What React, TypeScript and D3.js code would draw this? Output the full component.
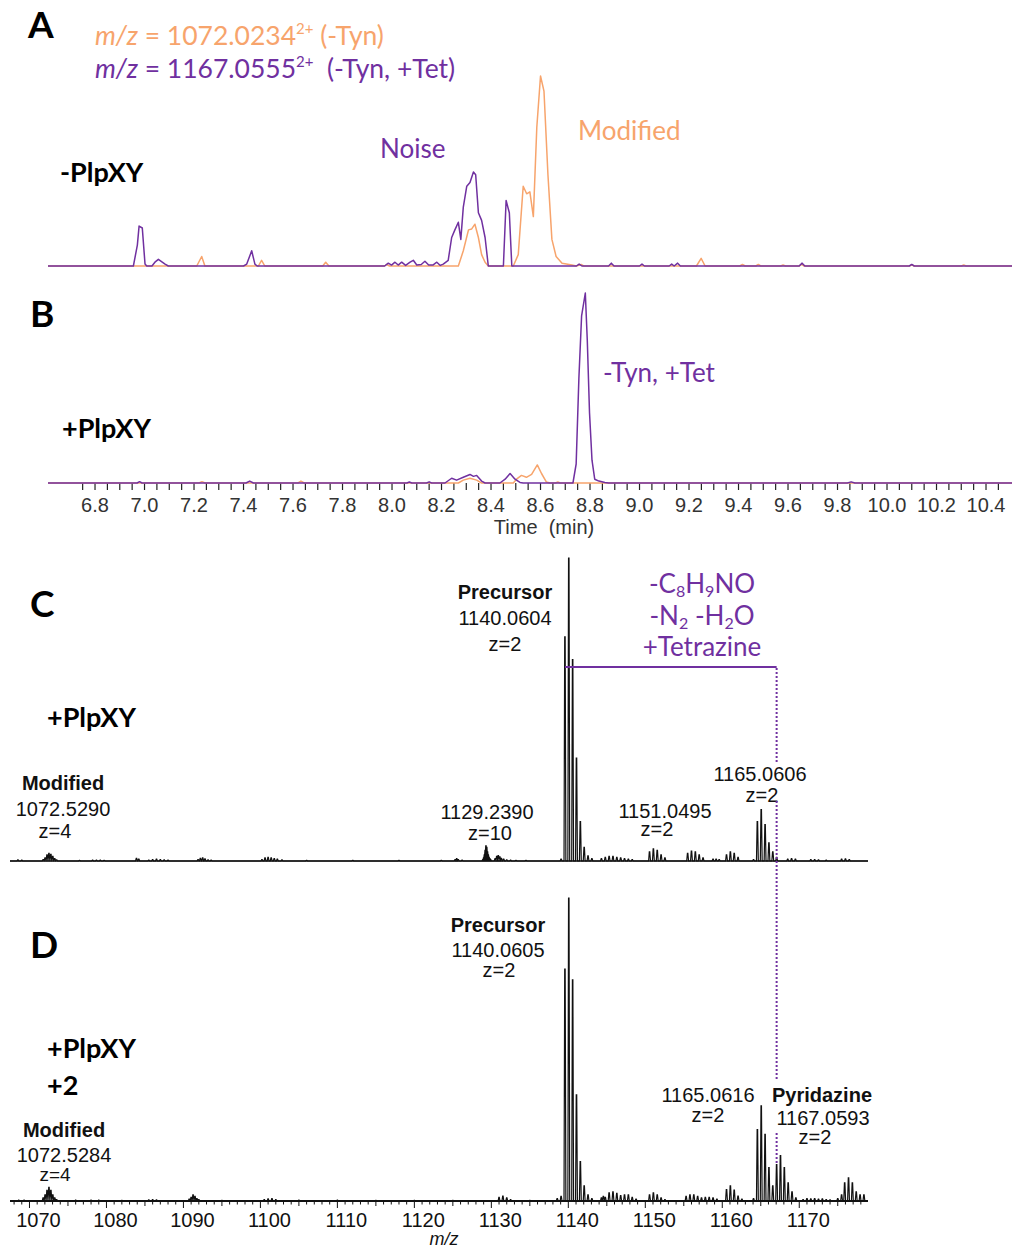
import React from 'react';
import * as d3 from 'd3';

const ORANGE = '#F7A46C';
const PURPLE = '#7030A0';
const CAL = 'Lato, "Open Sans", sans-serif';
const ARIAL = '"Liberation Sans", Arial, sans-serif';

// ---------- Chromatogram data (time in min, relative intensity %) ----------
const timeTickLabels = [6.8, 7.0, 7.2, 7.4, 7.6, 7.8, 8.0, 8.2, 8.4, 8.6, 8.8, 9.0, 9.2, 9.4, 9.6, 9.8, 10.0, 10.2, 10.4];

const chromA_tyn: [number, number][] = [
  [6.61, 0], [7.211, 0], [7.231, 5], [7.244, 0], [7.46, 0], [7.473, 3], [7.486, 0], [7.72, 0], [7.732, 2], [7.745, 0],
  [7.97, 0], [7.978, 0.8], [7.99, 0], [8.268, 0], [8.288, 8], [8.309, 19], [8.322, 19.5], [8.335, 22], [8.349, 15],
  [8.362, 6], [8.376, 2], [8.389, 0], [8.49, 0], [8.51, 6], [8.53, 42], [8.544, 38], [8.557, 39], [8.571, 26],
  [8.585, 73], [8.6, 100], [8.614, 92], [8.63, 48], [8.646, 14], [8.663, 5], [8.687, 1.5], [8.727, 0.5], [8.745, 0],
  [8.764, 0.8], [8.775, 0], [9.23, 0], [9.249, 4], [9.265, 0], [9.405, 0], [9.416, 0.8], [9.427, 0], [9.47, 0],
  [9.48, 0.8], [9.49, 0], [9.57, 0], [9.58, 0.5], [9.59, 0], [9.645, 0], [9.655, 0.8], [9.665, 0], [10.09, 0],
  [10.1, 0.5], [10.11, 0], [10.3, 0], [10.31, 0.5], [10.32, 0], [10.505, 0],
];

const chromA_tet: [number, number][] = [
  [6.61, 0], [6.955, 0], [6.971, 11], [6.978, 21], [6.991, 20], [7.002, 1], [7.009, 0], [7.03, 0], [7.042, 2],
  [7.056, 3.5], [7.083, 1], [7.096, 0], [7.4, 0], [7.413, 1], [7.433, 8], [7.446, 1], [7.455, 0], [7.97, 0],
  [7.985, 1.5], [7.998, 0.5], [8.012, 2], [8.025, 0.5], [8.039, 2], [8.055, 0.3], [8.073, 2], [8.086, 3], [8.1, 0.5],
  [8.118, 0.8], [8.133, 2.5], [8.148, 0.5], [8.165, 0.5], [8.181, 2], [8.195, 0.3], [8.207, 1], [8.227, 3],
  [8.241, 15], [8.254, 19], [8.268, 23], [8.278, 14], [8.288, 31], [8.302, 42], [8.315, 44], [8.329, 49.5],
  [8.338, 48], [8.349, 28], [8.362, 24], [8.376, 15], [8.389, 0], [8.45, 0], [8.461, 34.5], [8.474, 28], [8.484, 0],
  [8.745, 0], [8.756, 1], [8.767, 0], [8.875, 0], [8.886, 1.5], [8.897, 0], [9.0, 0], [9.01, 1], [9.02, 0],
  [9.12, 0], [9.13, 1], [9.14, 0], [9.154, 1.5], [9.165, 0], [9.645, 0], [9.657, 1.5], [9.668, 0], [10.09, 0],
  [10.1, 0.8], [10.11, 0], [10.505, 0],
];

const chromB_tyn: [number, number][] = [
  [6.61, 0], [7.22, 0], [7.232, 0.7], [7.245, 0], [7.62, 0], [7.632, 1], [7.645, 0], [8.268, 0], [8.288, 1.5],
  [8.315, 2.5], [8.342, 1.5], [8.362, 0], [8.49, 0], [8.503, 2], [8.523, 4], [8.543, 3], [8.564, 4.5], [8.587, 9.5],
  [8.604, 5], [8.624, 0.5], [8.638, 0], [8.66, 0], [8.67, 0.5], [8.68, 0], [10.505, 0],
];

const chromB_tet: [number, number][] = [
  [6.61, 0], [6.97, 0], [6.98, 0.7], [6.99, 0], [7.41, 0], [7.425, 1], [7.44, 0], [8.06, 0], [8.07, 0.5], [8.08, 0],
  [8.14, 0], [8.15, 0.6], [8.16, 0], [8.214, 0], [8.241, 2.5], [8.261, 1.5], [8.288, 3], [8.315, 4.5], [8.329, 3.5],
  [8.342, 4], [8.362, 1], [8.376, 0], [8.436, 0], [8.457, 2], [8.477, 5], [8.497, 2], [8.517, 0.3], [8.53, 0],
  [8.731, 0], [8.744, 10], [8.755, 55], [8.766, 88], [8.781, 100], [8.789, 75], [8.798, 37], [8.808, 12], [8.819, 2],
  [8.836, 1], [8.86, 0.3], [8.875, 0], [9.84, 0], [9.855, 0.6], [9.87, 0], [10.505, 0],
];

// ---------- Mass spectra (m/z, relative intensity %) ----------
const mzTickLabels = [1070, 1080, 1090, 1100, 1110, 1120, 1130, 1140, 1150, 1160, 1170];

const specC: [number, number][] = [
  [1068.5, 0.4], [1069.0, 0.3],
  [1071.78, 0.5], [1072.03, 1.0], [1072.28, 2.0], [1072.53, 2.5], [1072.78, 2.2], [1073.03, 1.5], [1073.28, 0.8], [1073.53, 0.4],
  [1076.5, 0.2], [1078.2, 0.3], [1078.7, 0.3], [1079.2, 0.3], [1079.7, 0.2],
  [1083.9, 0.9], [1084.2, 0.6], [1085.5, 0.3], [1086.0, 0.5], [1086.5, 0.6], [1087.0, 0.5], [1087.5, 0.4], [1088.0, 0.3],
  [1091.9, 0.5], [1092.2, 0.9], [1092.5, 1.0], [1092.8, 0.7], [1093.2, 0.4], [1093.6, 0.3],
  [1100.2, 0.5], [1100.6, 1.0], [1101.0, 1.2], [1101.4, 1.0], [1101.8, 0.8], [1102.2, 0.6], [1102.8, 0.4],
  [1106, 0.2], [1112, 0.2], [1118, 0.2], [1123.5, 0.2], [1125.3, 0.5], [1125.5, 0.8], [1125.7, 0.5], [1126.2, 0.3],
  [1128.9, 0.5], [1129.0, 1.0], [1129.1, 2.0], [1129.2, 3.5], [1129.3, 5.0], [1129.4, 4.5], [1129.5, 3.0], [1129.6, 2.0],
  [1129.7, 1.2], [1129.8, 0.8], [1129.9, 0.5],
  [1130.5, 0.8], [1130.7, 1.5], [1130.9, 1.8], [1131.1, 1.4], [1131.3, 0.9], [1131.6, 0.6], [1132.0, 0.4], [1132.5, 0.3],
  [1133.2, 0.2], [1134.5, 0.2],
  [1139.06, 0.6], [1139.56, 74], [1140.06, 100], [1140.56, 66.5], [1141.06, 34], [1141.56, 13], [1142.06, 4.5],
  [1142.56, 1.7], [1143.06, 0.8],
  [1144.3, 0.8], [1144.8, 1.2], [1145.3, 1.5], [1145.8, 1.5], [1146.3, 1.2], [1146.8, 1.0], [1147.3, 0.8], [1147.8, 0.6], [1148.3, 0.5],
  [1150.55, 3.0], [1151.05, 4.0], [1151.55, 3.5], [1152.05, 2.0], [1152.55, 1.0],
  [1155.5, 2.5], [1156.0, 3.3], [1156.5, 3.0], [1157.0, 2.0], [1157.5, 1.0],
  [1158.8, 0.6], [1159.2, 0.6], [1159.6, 0.5],
  [1160.55, 2.0], [1161.05, 3.0], [1161.55, 2.5], [1162.05, 1.2],
  [1164.06, 0.5], [1164.56, 13], [1165.06, 17], [1165.56, 12], [1166.06, 6], [1166.56, 3], [1167.06, 1.2],
  [1168.5, 0.6], [1169.0, 0.8], [1169.5, 0.6], [1171.5, 0.5], [1172.0, 0.5], [1172.5, 0.4], [1173.5, 0.3],
  [1175.5, 0.6], [1176.0, 0.7], [1176.5, 0.5],
];

const specD: [number, number][] = [
  [1068.6, 0.3], [1069.3, 0.3],
  [1071.78, 1.0], [1072.03, 2.0], [1072.28, 3.5], [1072.53, 4.5], [1072.78, 3.5], [1073.03, 2.0], [1073.28, 1.0], [1073.53, 0.5],
  [1076.0, 0.3], [1078.0, 0.3], [1079.0, 0.3], [1082.0, 0.2], [1085.5, 0.4], [1086.0, 0.5], [1086.5, 0.4],
  [1090.75, 0.6], [1091.0, 1.2], [1091.25, 2.0], [1091.5, 1.5], [1091.75, 0.8], [1092.0, 0.5],
  [1095.0, 0.2], [1100.5, 0.5], [1101.0, 0.7], [1101.5, 0.8], [1102.0, 0.5], [1105.0, 0.3], [1110.0, 0.3],
  [1115.0, 0.2], [1120.0, 0.2], [1125.0, 0.2],
  [1131.0, 1.2], [1131.5, 1.6], [1132.0, 1.0], [1132.5, 0.5], [1135.0, 0.2],
  [1138.56, 0.8], [1139.06, 1.5], [1139.56, 76.5], [1140.06, 100], [1140.56, 73], [1141.06, 35], [1141.56, 13],
  [1142.06, 5], [1142.56, 2], [1143.06, 0.8],
  [1144.3, 1.0], [1144.55, 1.5], [1144.8, 1.2], [1145.3, 2.7], [1145.8, 3.0], [1146.3, 2.5], [1146.8, 1.8],
  [1147.3, 2.0], [1147.8, 2.0], [1148.3, 1.2], [1148.8, 0.6],
  [1150.55, 2.0], [1151.05, 2.7], [1151.55, 2.0], [1152.05, 1.0], [1152.55, 0.5],
  [1155.3, 1.5], [1155.8, 2.0], [1156.3, 2.0], [1156.8, 1.5], [1157.3, 1.0], [1157.8, 1.2], [1158.3, 1.2], [1158.8, 1.0], [1159.3, 0.6],
  [1160.55, 3.8], [1161.05, 5.0], [1161.55, 3.6], [1162.05, 1.6], [1162.55, 0.6],
  [1164.06, 0.8], [1164.56, 23.6], [1165.06, 31.4], [1165.56, 22], [1166.06, 11], [1166.56, 5], [1167.06, 12],
  [1167.56, 15], [1168.06, 11], [1168.56, 6], [1169.06, 3], [1169.56, 1],
  [1170.5, 0.5], [1171.0, 0.8], [1171.5, 0.7], [1172.0, 0.8], [1172.5, 0.6], [1173.0, 0.7], [1173.5, 0.5], [1174.0, 0.4],
  [1175.0, 0.8], [1175.5, 2.0], [1175.9, 6.0], [1176.4, 7.6], [1176.9, 6.0], [1177.4, 3.0], [1177.9, 2.0], [1178.4, 2.0],
];

const precursorMz = 1139.56;
const pyridazineMz = 1167.06;

// ---------- scales ----------
const xTime = d3.scaleLinear().domain([6.61, 10.505]).range([48, 1012]);
const yA = d3.scaleLinear().domain([0, 100]).range([266, 76]);
const yB = d3.scaleLinear().domain([0, 100]).range([483, 293]);
const xMz = d3.scaleLinear().domain([1067.47, 1178.93]).range([10, 868]);
const yC = d3.scaleLinear().domain([0, 100]).range([861, 558]);
const yD = d3.scaleLinear().domain([0, 100]).range([1201, 898]);

function chromPath(data: [number, number][], y: d3.ScaleLinear<number, number>) {
  return d3.line<[number, number]>().x(d => xTime(d[0])).y(d => y(d[1]))(data) || '';
}

function specPath(peaks: [number, number][], y: d3.ScaleLinear<number, number>) {
  const sorted = [...peaks].sort((a, b) => a[0] - b[0]);
  const pts: [number, number][] = [[xMz.domain()[0], 0]];
  for (const [m, h] of sorted) {
    pts.push([m - 0.12, 0], [m - 0.03, h], [m + 0.03, h], [m + 0.12, 0]);
  }
  pts.push([xMz.domain()[1], 0]);
  return d3.line<[number, number]>().x(d => xMz(d[0])).y(d => y(d[1]))(pts) || '';
}

const timeMinor = d3.range(6.75, 10.451, 0.05);
const mzMinor = d3.range(1068, 1179, 1);

export default function App() {
  const bracketY = yC(64);
  const dotX = xMz(pyridazineMz);
  return (
    <svg width={1015} height={1253} style={{ position: 'absolute', left: 0, top: 0, background: '#fff' }}
      xmlns="http://www.w3.org/2000/svg">
      <rect x={0} y={0} width={1015} height={1253} fill="#fff" />

      {/* ---------------- Panel A ---------------- */}
      <text x={28} y={38} fontFamily={CAL} fontWeight={700} fontSize={37} fill="#000">A</text>
      <text x={95} y={45} fontFamily={CAL} fontSize={26.5} fill={ORANGE}>
        <tspan fontStyle="italic">m/z</tspan>
        <tspan> = 1072.0234</tspan>
        <tspan fontSize={15} dy={-11}>2+</tspan>
        <tspan dy={11}> (-Tyn)</tspan>
      </text>
      <text x={95} y={78} fontFamily={CAL} fontSize={26.5} fill={PURPLE}>
        <tspan fontStyle="italic">m/z</tspan>
        <tspan> = 1167.0555</tspan>
        <tspan fontSize={15} dy={-11}>2+</tspan>
        <tspan dy={11}>{'\u00a0 (-Tyn, +Tet)'}</tspan>
      </text>
      <text x={60} y={182} fontFamily={CAL} fontWeight={700} fontSize={27} fill="#000">-PlpXY</text>
      <text x={380} y={158} fontFamily={CAL} fontSize={26} fill={PURPLE}>Noise</text>
      <text x={578} y={140} fontFamily={CAL} fontSize={26} fill={ORANGE}>Modified</text>
      <path d={chromPath(chromA_tyn, yA)} fill="none" stroke={ORANGE} strokeWidth={1.5} strokeLinejoin="round" />
      <path d={chromPath(chromA_tet, yA)} fill="none" stroke={PURPLE} strokeWidth={1.5} strokeLinejoin="round" />

      {/* ---------------- Panel B ---------------- */}
      <text x={30} y={327} fontFamily={CAL} fontWeight={700} fontSize={37} fill="#000">B</text>
      <text x={62} y={438} fontFamily={CAL} fontWeight={700} fontSize={27} fill="#000">+PlpXY</text>
      <text x={603} y={382} fontFamily={CAL} fontSize={26} fill={PURPLE}>-Tyn, +Tet</text>
      <g>
        {timeMinor.map((t, i) => (
          <line key={'tm' + i} x1={xTime(t)} x2={xTime(t)} y1={yB(0)} y2={yB(0) + 7} stroke="#222" strokeWidth={1.2} />
        ))}
        {timeTickLabels.map(t => (
          <text key={'tl' + t} x={xTime(t)} y={512} textAnchor="middle" fontFamily={ARIAL} fontSize={20} fill="#333">
            {t.toFixed(1)}
          </text>
        ))}
        <text x={544} y={534} textAnchor="middle" fontFamily={ARIAL} fontSize={20} fill="#333">{'Time\u00a0 (min)'}</text>
      </g>
      <path d={chromPath(chromB_tyn, yB)} fill="none" stroke={ORANGE} strokeWidth={1.5} strokeLinejoin="round" />
      <path d={chromPath(chromB_tet, yB)} fill="none" stroke={PURPLE} strokeWidth={1.5} strokeLinejoin="round" />

      {/* ---------------- Panel C ---------------- */}
      <text x={30} y={617} fontFamily={CAL} fontWeight={700} fontSize={37} fill="#000">C</text>
      <text x={47} y={727} fontFamily={CAL} fontWeight={700} fontSize={27} fill="#000">+PlpXY</text>
      <path d={specPath(specC, yC)} fill="none" stroke="#111" strokeWidth={1.2} />
      <line x1={xMz.range()[0]} x2={xMz.range()[1]} y1={yC(0)} y2={yC(0)} stroke="#111" strokeWidth={1.5} />

      <g fontFamily={ARIAL} fontSize={20} fill="#111" textAnchor="middle">
        <text x={63} y={790} fontWeight={700}>Modified</text>
        <text x={63} y={816}>1072.5290</text>
        <text x={55} y={838}>z=4</text>
        <text x={487} y={819}>1129.2390</text>
        <text x={490} y={840}>z=10</text>
        <text x={505} y={599} fontWeight={700}>Precursor</text>
        <text x={505} y={625}>1140.0604</text>
        <text x={505} y={651}>z=2</text>
        <text x={665} y={818}>1151.0495</text>
        <text x={657} y={836}>z=2</text>
        <text x={760} y={781}>1165.0606</text>
        <text x={762} y={802}>z=2</text>
      </g>
      <g fontFamily={CAL} fontSize={26} fill={PURPLE} textAnchor="middle">
        <text x={702} y={593}>
          <tspan>-C</tspan><tspan fontSize={16} dy={4}>8</tspan><tspan dy={-4}>H</tspan>
          <tspan fontSize={16} dy={4}>9</tspan><tspan dy={-4}>NO</tspan>
        </text>
        <text x={702} y={625}>
          <tspan>-N</tspan><tspan fontSize={16} dy={4}>2</tspan><tspan dy={-4}>{'\u00a0-H'}</tspan>
          <tspan fontSize={16} dy={4}>2</tspan><tspan dy={-4}>O</tspan>
        </text>
        <text x={702} y={656}>+Tetrazine</text>
      </g>
      <line x1={xMz(precursorMz)} x2={dotX} y1={bracketY} y2={bracketY} stroke={PURPLE} strokeWidth={2} />
      <g stroke={PURPLE} strokeWidth={2} strokeDasharray="2,2">
        <line x1={dotX} x2={dotX} y1={bracketY + 1} y2={762} />
        <line x1={dotX} x2={dotX} y1={801} y2={1080} />
        <line x1={dotX} x2={dotX} y1={1133} y2={yD(12)} />
      </g>

      {/* ---------------- Panel D ---------------- */}
      <text x={30} y={958} fontFamily={CAL} fontWeight={700} fontSize={37} fill="#000">D</text>
      <text x={47} y={1058} fontFamily={CAL} fontWeight={700} fontSize={27} fill="#000">+PlpXY</text>
      <text x={47} y={1095} fontFamily={CAL} fontWeight={700} fontSize={27} fill="#000">+2</text>
      <path d={specPath(specD, yD)} fill="none" stroke="#111" strokeWidth={1.2} />
      <line x1={xMz.range()[0]} x2={xMz.range()[1]} y1={yD(0)} y2={yD(0)} stroke="#111" strokeWidth={2} />
      {mzMinor.map(m => (
        <line key={'mm' + m} x1={xMz(m)} x2={xMz(m)} y1={yD(0)} y2={yD(0) + (m % 10 === 0 ? 7 : m % 5 === 0 ? 5 : 3.5)}
          stroke="#111" strokeWidth={1} />
      ))}
      {mzTickLabels.map(m => (
        <text key={'ml' + m} x={xMz(m) + 9} y={1227} textAnchor="middle" fontFamily={ARIAL} fontSize={20} fill="#111">{m}</text>
      ))}
      <text x={444} y={1245} textAnchor="middle" fontFamily={ARIAL} fontStyle="italic" fontSize={18} fill="#111">m/z</text>

      <g fontFamily={ARIAL} fontSize={20} fill="#111" textAnchor="middle">
        <text x={64} y={1137} fontWeight={700}>Modified</text>
        <text x={64} y={1162}>1072.5284</text>
        <text x={55} y={1181} fontSize={19}>z=4</text>
        <text x={498} y={932} fontWeight={700}>Precursor</text>
        <text x={498} y={957}>1140.0605</text>
        <text x={499} y={977}>z=2</text>
        <text x={708} y={1102}>1165.0616</text>
        <text x={708} y={1122}>z=2</text>
        <text x={822} y={1102} fontWeight={700}>Pyridazine</text>
        <text x={823} y={1125}>1167.0593</text>
        <text x={815} y={1144}>z=2</text>
      </g>
    </svg>
  );
}
